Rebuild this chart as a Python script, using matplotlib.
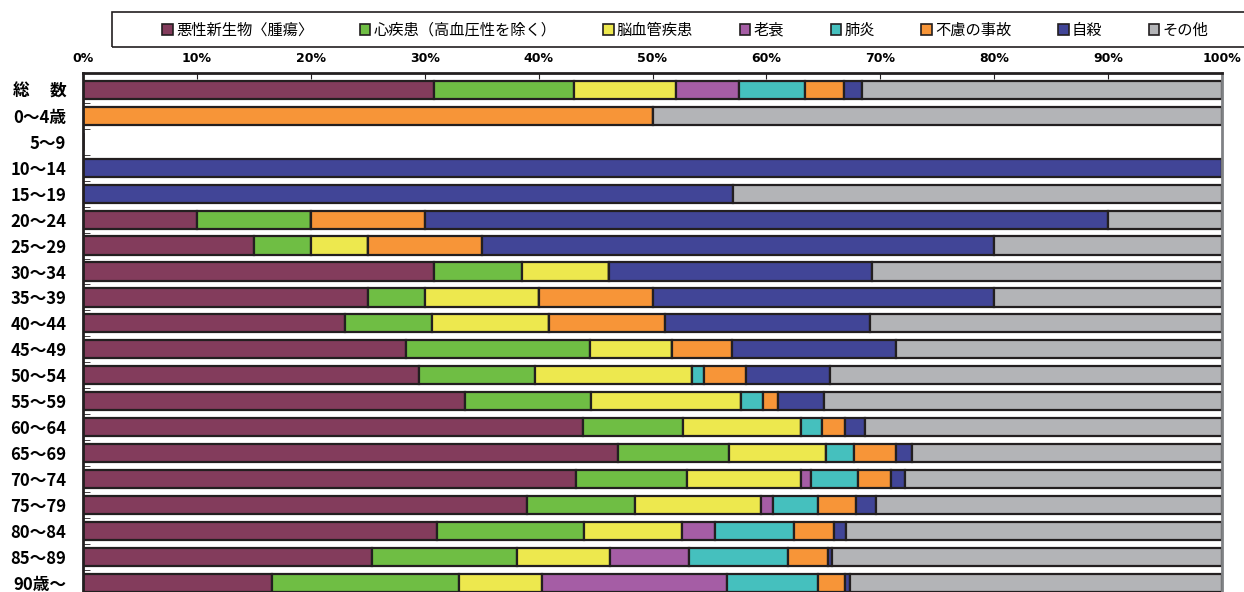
import numpy as np
import matplotlib.pyplot as plt
from matplotlib.patches import Patch, Rectangle

plt.rcParams['font.family'] = ['Noto Sans CJK JP', 'DejaVu Sans']

# age groups (top to bottom)
groups = ["総　 数", "0～4歳", "5～9", "10～14", "15～19", "20～24", "25～29",
          "30～34", "35～39", "40～44", "45～49", "50～54", "55～59", "60～64",
          "65～69", "70～74", "75～79", "80～84", "85～89", "90歳～"]

causes = ["悪性新生物〈腫瘍〉", "心疾患（高血圧性を除く）", "脳血管疾患", "老衰",
          "肺炎", "不慮の事故", "自殺", "その他"]
colors = ["#833C5C", "#6FBE44", "#EDE84E", "#A55DA5",
          "#45C0BE", "#F79538", "#414597", "#B3B4B7"]

# shares (%) per cause, one value per age group
cancer  = [30.8, 0, 0, 0, 0, 10, 15, 30.8, 25, 23.0, 28.4, 29.5, 33.5, 43.9, 47.0, 43.3, 39.0, 31.1, 25.4, 16.6]
heart   = [12.3, 0, 0, 0, 0, 10, 5, 7.7, 5, 7.6, 16.1, 10.2, 11.1, 8.8, 9.7, 9.7, 9.5, 12.9, 12.7, 16.4]
stroke  = [9.0, 0, 0, 0, 0, 0, 5, 7.7, 10, 10.3, 7.2, 13.8, 13.2, 10.3, 8.5, 10.0, 11.0, 8.6, 8.2, 7.3]
senile  = [5.5, 0, 0, 0, 0, 0, 0, 0, 0, 0, 0, 0, 0, 0, 0, 0.9, 1.1, 2.9, 6.9, 16.2]
pneumo  = [5.8, 0, 0, 0, 0, 0, 0, 0, 0, 0, 0, 1.0, 1.9, 1.9, 2.5, 4.1, 3.9, 6.9, 8.7, 8.0]
accid   = [3.4, 50, 0, 0, 0, 10, 10, 0, 10, 10.2, 5.3, 3.7, 1.3, 2.0, 3.7, 2.9, 3.4, 3.5, 3.5, 2.4]
suicide = [1.6, 0, 0, 100, 57.1, 60, 45, 23.1, 30, 18.0, 14.4, 7.4, 4.1, 1.8, 1.4, 1.3, 1.7, 1.1, 0.4, 0.4]
other   = [31.6, 50, 0, 0, 42.9, 10, 20, 30.7, 20, 30.9, 28.6, 34.4, 34.9, 31.3, 27.2, 27.8, 30.4, 33.0, 34.2, 32.7]

series = [cancer, heart, stroke, senile, pneumo, accid, suicide, other]

fig = plt.figure(figsize=(12.44, 5.92), dpi=100)
ax = fig.add_axes([83 / 1244, 0, (1222 - 83) / 1244, 1 - 73 / 592])

y = np.arange(len(groups))
left = np.zeros(len(groups))
for vals, c in zip(series, colors):
    vals = np.array(vals)
    ax.barh(y, vals, left=left, height=0.7, color=c,
            edgecolor="#231F20", linewidth=1.6)
    left += vals

ax.set_xlim(0, 100)
ax.set_ylim(19.35, -0.65)
ax.set_xticks(np.arange(0, 101, 10))
ax.set_xticklabels([f"{v}%" for v in range(0, 101, 10)],
                   fontsize=9, fontweight="bold", family="DejaVu Sans")
ax.xaxis.tick_top()
ax.tick_params(axis="x", direction="in", length=4, pad=6, color="#231F20")
ax.set_yticks(y)
ax.set_yticklabels(groups, fontsize=12, fontweight="bold")
ax.tick_params(axis="y", length=0, pad=12)
ax.set_yticks(y[:-1] + 0.5, minor=True)
ax.tick_params(axis="y", which="minor", direction="in", length=5, color="#231F20")

for s in ["top", "left"]:
    ax.spines[s].set_color("#231F20")
    ax.spines[s].set_linewidth(2)
ax.spines["right"].set_color("#808285")
ax.spines["right"].set_linewidth(2)
ax.spines["bottom"].set_visible(False)

# legend box
fig.patches.append(Rectangle((112 / 1244, 1 - 47 / 592), 1.0, 35 / 592,
                             transform=fig.transFigure, fill=False,
                             edgecolor="#231F20", linewidth=1.2))
handles = [Patch(facecolor=c, edgecolor="#231F20", linewidth=1.2) for c in colors]
fig.legend(handles, causes, loc="center left", ncol=8,
           bbox_to_anchor=(156 / 1244, 1 - 30 / 592),
           fontsize=11, handlelength=0.7, handleheight=0.7, handletextpad=0.2,
           frameon=False, borderaxespad=0, columnspacing=3.05)

fig.savefig("out.png", dpi=100)
